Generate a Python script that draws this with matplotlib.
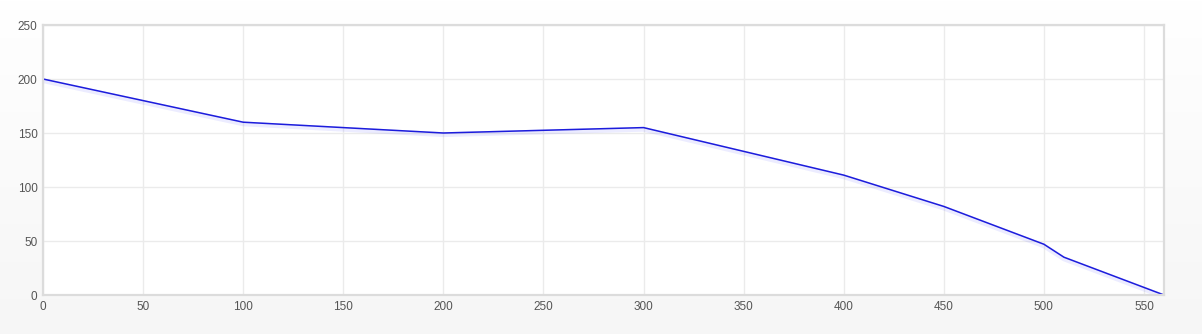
import numpy as np
import matplotlib.pyplot as plt
import matplotlib.patheffects as pe

plt.rcParams['font.family'] = ['Liberation Sans', 'DejaVu Sans']

xs = [0, 100, 200, 300, 400, 450, 500, 510, 560]
ys = [200, 160, 150, 155, 111, 82, 47, 35, 0]
xticks = list(range(0, 551, 50))
yticks = list(range(0, 251, 50))

fig = plt.figure(figsize=(12.02, 3.34), dpi=100)

# background gradient, white at top to light grey at bottom
bg = fig.add_axes([0, 0, 1, 1], zorder=-1)
grad = np.linspace(1.0, 0.965, 256).reshape(-1, 1)
bg.imshow(np.dstack([grad, grad, grad]), aspect='auto', extent=[0, 1, 0, 1])
bg.axis('off')

ax = fig.add_axes([43/1202, 39/334, 1121/1202, 270/334])
ax.set_facecolor('white')
ax.plot(xs, ys, color='#1c1cdc', lw=1.1, solid_joinstyle='round',
        path_effects=[pe.SimpleLineShadow(offset=(0, -1.2), shadow_color='#3030ff', alpha=0.09, linewidth=3.5),
                      pe.Normal()])

ax.set_xlim(0, 560)
ax.set_ylim(0, 250)
ax.set_xticks(xticks)
ax.set_yticks(yticks)
ax.grid(True, color='#ebebeb', lw=1)
ax.set_axisbelow(True)
for s in ax.spines.values():
    s.set_color('#dcdcdc')
    s.set_linewidth(1.6)
ax.tick_params(length=0, labelsize=8.5, labelcolor='#555555', pad=4)

fig.savefig('out.png', dpi=100)
